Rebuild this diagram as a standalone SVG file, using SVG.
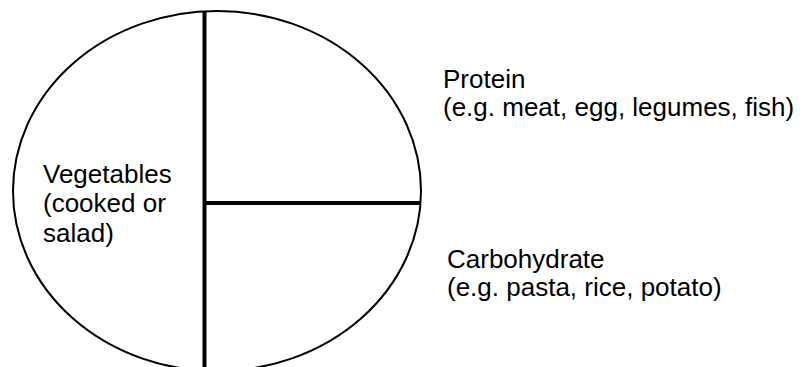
<svg xmlns="http://www.w3.org/2000/svg" width="804" height="367" viewBox="0 0 804 367">
<style>
.lbl{font-family:"Liberation Sans",Arial,sans-serif;font-size:26px;fill:#000}
.plate{fill:none;stroke:#000;stroke-width:2}
.div{stroke:#000;stroke-width:4;fill:none}
</style>
<rect width="804" height="367" fill="#fff"/>
<g id="plate"><ellipse class="plate" cx="217" cy="191" rx="204" ry="180"/></g>
<g id="connectors">
<line class="div" x1="204.5" y1="11" x2="204.5" y2="367"/>
<line class="div" x1="204.5" y1="203" x2="420" y2="203"/>
</g>
<g id="vegetables"><text class="lbl" x="43" y="183">Vegetables</text><text class="lbl" x="43" y="212">(cooked or</text><text class="lbl" x="43" y="242">salad)</text></g>
<g id="protein"><text class="lbl" x="443" y="88">Protein</text><text class="lbl" x="443" y="116">(e.g. meat, egg, legumes, fish)</text></g>
<g id="carbohydrate"><text class="lbl" x="447" y="268">Carbohydrate</text><text class="lbl" x="447" y="296">(e.g. pasta, rice, potato)</text></g>
</svg>
